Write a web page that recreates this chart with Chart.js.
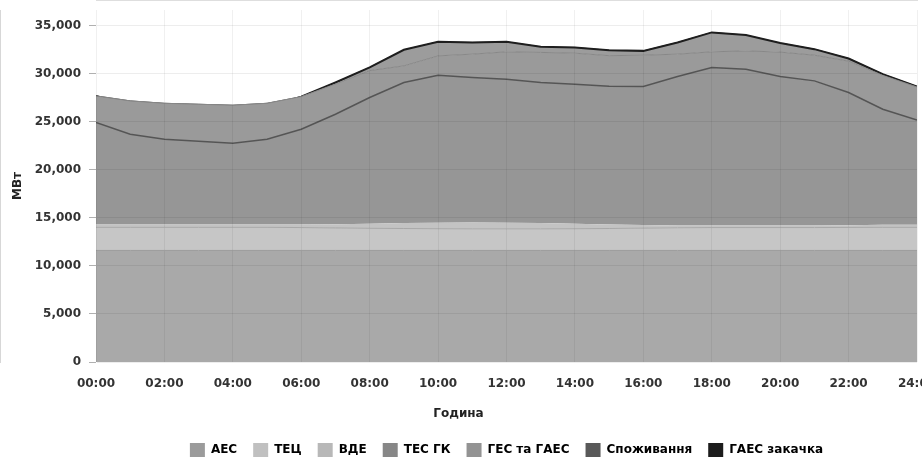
<!DOCTYPE html>
<html><head><meta charset="utf-8">
<script src="https://cdn.jsdelivr.net/npm/chart.js@4/dist/chart.umd.min.js"></script>
<style>html,body{margin:0;padding:0;background:#fff}#wrap{width:922px;height:463px}</style>
</head><body><div id="wrap"><canvas id="c" width="922" height="463"></canvas></div>
<script>
// ---- data ----
const hours = [0,1,2,3,4,5,6,7,8,9,10,11,12,13,14,15,16,17,18,19,20,21,22,23,24];
const xTickLabels = ['00:00','02:00','04:00','06:00','08:00','10:00','12:00','14:00','16:00','18:00','20:00','22:00','24:00'];
const seriesNames = ['АЕС','ТЕЦ','ВДЕ','ТЕС ГК','ГЕС та ГАЕС','Споживання','ГАЕС закачка'];
const aes   = [11600,11600,11600,11600,11600,11600,11600,11600,11600,11600,11600,11600,11600,11600,11600,11600,11600,11600,11600,11600,11600,11600,11600,11600,11600];
const tec   = [2400,2400,2400,2400,2400,2400,2380,2340,2300,2280,2260,2250,2250,2250,2260,2280,2320,2360,2380,2380,2380,2380,2390,2400,2400];
const vde   = [300,300,300,300,300,300,320,380,480,560,620,650,640,600,520,420,320,230,200,200,200,220,240,260,280];
const tesGk = [10600,9380,8860,8650,8440,8860,9900,11440,13120,14620,15340,15080,14920,14610,14510,14380,14410,15500,16450,16270,15510,15030,13790,12020,10890];
const ges   = [2770,3470,3740,3850,3960,3740,3400,3140,2800,1730,2010,2430,2840,3130,3220,3170,3250,2320,1620,1900,2530,2670,3260,3520,3430];
const consumption = [27670,26460,26180,26070,25940,26460,27580,29060,30630,32460,33290,33230,33290,32770,32710,32410,32350,33230,34270,33990,33160,32530,31560,29930,28650];
const pumping = [0,690,720,730,760,440,0,0,0,0,0,0,0,0,0,0,0,0,0,0,0,0,0,0,0];
const yTicks = [0,5000,10000,15000,20000,25000,30000,35000];

// ---- styles ----
const fillColors   = ['#a9a9a9','#c6c6c6','#c3c3c3','#969696','#9a9a9a','#9c9c9c','#6b6b6b'];
const borderColors = ['#9c9c9c','#a8a8a8','#c3c3c3','#555555','#878787','#1e1e1e','#4a4a4a'];
const borderWidths = [1,1,0,1.5,1,2,1];
const legendColors = ['#9b9b9b','#c0c0c0','#b8b8b8','#878787','#939393','#595959','#1c1c1c'];

const pts = arr => hours.map((h,i)=>({x:h, y:arr[i]}));
const seriesData = [aes, tec, vde, tesGk, ges, consumption, pumping];
const stacks = ['gen','gen','gen','gen','gen','cons','cons'];
const fills = ['origin','-1','-1','-1','-1',{target:4, above:fillColors[5], below:'rgba(0,0,0,0)'},'-1'];

Chart.defaults.font.family = "'DejaVu Sans', Verdana, sans-serif";
Chart.defaults.color = '#333';

new Chart(document.getElementById('c'), {
  type: 'line',
  data: {
    datasets: seriesNames.map((n,i)=>({
      label: n,
      data: pts(seriesData[i]),
      stack: stacks[i],
      fill: fills[i],
      backgroundColor: fillColors[i],
      borderColor: borderColors[i],
      borderWidth: borderWidths[i],
      pointRadius: 0,
      tension: 0
    }))
  },
  options: {
    responsive: false,
    devicePixelRatio: 1,
    animation: false,
    layout: {padding: {left: 0, right: 5, top: 10, bottom: -4}},
    scales: {
      x: {
        type: 'linear', min: 0, max: 24,
        afterBuildTicks: s => { s.ticks = xTickLabels.map((_,i)=>({value: i*2})); },
        ticks: {
          autoSkip: false, maxRotation: 0, padding: 15,
          font: {size: 12, weight: 'bold'}, color: '#333',
          callback: v => xTickLabels[Math.round(v/2)]
        },
        grid: {color: 'rgba(0,0,0,0.06)', drawTicks: false, z: 1},
        border: {color: '#bdbdbd'},
        afterFit: s => { s.paddingLeft = 0; s.paddingRight = 0; s.height = 29.4; }
      },
      y: {
        stacked: true, min: 0, max: 36600,
        afterBuildTicks: s => { s.ticks = yTicks.map(v=>({value: v})); },
        ticks: {
          padding: 8, font: {size: 12, weight: 'bold'}, color: '#333',
          callback: v => v.toLocaleString('en-US')
        },
        grid: {color: 'rgba(0,0,0,0.07)', tickLength: 7, tickColor: '#b0b0b0', z: 1},
        border: {color: '#b0b0b0'},
        title: {display: true, text: 'МВт', font: {size: 12, weight: 'bold'}, color: '#222', padding: {top: 11, bottom: 0}},
        afterFit: s => { s.width = 96; s.paddingTop = 0; s.paddingBottom = 0; }
      }
    },
    plugins: {
      tooltip: {enabled: false},
      title: {
        display: true, text: 'Година', position: 'bottom', weight: 500,
        font: {size: 12, weight: 'bold'}, color: '#222',
        padding: {top: 15.4, bottom: 5.8}
      },
      legend: {
        position: 'bottom', fullSize: false, weight: 1000,
        labels: {
          boxWidth: 15, boxHeight: 14, padding: 16,
          font: {size: 12, weight: 'bold'}, color: '#222',
          generateLabels: chart => chart.data.datasets.map((d,i)=>({
            text: d.label, fillStyle: legendColors[i], strokeStyle: legendColors[i],
            lineWidth: 0, hidden: false, datasetIndex: i
          }))
        }
      }
    }
  }
});
</script>
</body></html>
